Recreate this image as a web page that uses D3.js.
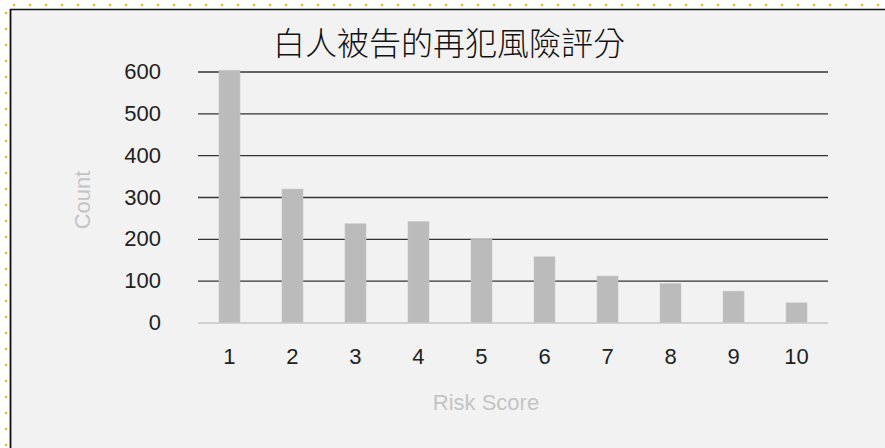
<!DOCTYPE html>
<html>
<head>
<meta charset="utf-8">
<script src="https://cdn.jsdelivr.net/npm/d3@7"></script>
<style>
  html, body { margin: 0; padding: 0; background: #fff; }
  svg { display: block; }
</style>
</head>
<body>
<svg id="chart" width="885" height="448"></svg>
<script>
const scores = ['1', '2', '3', '4', '5', '6', '7', '8', '9', '10'];
const counts = [603, 319, 236, 241, 199, 157, 111, 93, 75, 47];
const yTicks = [0, 100, 200, 300, 400, 500, 600];

const width = 885, height = 448;
const plot = { left: 198, right: 828, top: 71.5, bottom: 322.5 };

const svg = d3.select('#chart');

// frame: grey panel with dark top/left edge, dotted guides outside
svg.append('rect')
    .attr('x', 11).attr('y', 10)
    .attr('width', width - 11).attr('height', height - 10)
    .attr('fill', '#f2f2f2');
svg.append('line')
    .attr('x1', 10).attr('x2', width).attr('y1', 9.5).attr('y2', 9.5)
    .attr('stroke', '#111').attr('stroke-width', 1.5);
svg.append('line')
    .attr('x1', 10.5).attr('x2', 10.5).attr('y1', 9).attr('y2', height)
    .attr('stroke', '#111').attr('stroke-width', 1.8);
svg.append('line')
    .attr('x1', 13).attr('x2', width).attr('y1', 5).attr('y2', 5)
    .attr('stroke', '#f2b400').attr('stroke-width', 2)
    .attr('stroke-dasharray', '2 14');
svg.append('line')
    .attr('x1', 6).attr('x2', 6).attr('y1', 12).attr('y2', height)
    .attr('stroke', '#f2b400').attr('stroke-width', 2)
    .attr('stroke-dasharray', '2 14');

const x = d3.scaleBand()
    .domain(scores)
    .range([plot.left, plot.right])
    .paddingInner(0.667)
    .paddingOuter(0.333);

const y = d3.scaleLinear()
    .domain([0, 600])
    .range([plot.bottom, plot.top]);

// gridlines
const yAxis = svg.append('g')
    .attr('transform', 'translate(' + plot.left + ',0)')
    .call(d3.axisLeft(y).tickValues(yTicks)
        .tickSize(-(plot.right - plot.left)).tickPadding(37));
yAxis.select('.domain').remove();
yAxis.selectAll('.tick line')
    .attr('stroke', (d) => d === 0 ? '#d0d0d0' : '#333')
    .attr('stroke-width', (d) => d === 0 ? 2 : 1.4);
yAxis.selectAll('.tick text')
    .attr('fill', '#222')
    .style('font-family', 'Liberation Sans, Arial, sans-serif')
    .style('font-size', '22px');

// bars
svg.append('g')
    .selectAll('rect')
    .data(counts)
    .enter()
    .append('rect')
    .attr('x', (d, i) => x(scores[i]))
    .attr('y', (d) => y(d))
    .attr('width', x.bandwidth())
    .attr('height', (d) => y(0) - y(d))
    .attr('fill', '#bbbbbb')
    .attr('stroke', '#c6c6c6')
    .attr('stroke-width', 0.6);

// x labels
const xAxis = svg.append('g')
    .attr('transform', 'translate(0,' + plot.bottom + ')')
    .call(d3.axisBottom(x).tickSize(0).tickPadding(26));
xAxis.select('.domain').remove();
xAxis.selectAll('.tick text')
    .attr('fill', '#222')
    .style('font-family', 'Liberation Sans, Arial, sans-serif')
    .style('font-size', '22px');

// titles
svg.append('text')
    .attr('x', 449).attr('y', 55)
    .attr('text-anchor', 'middle')
    .attr('fill', '#111')
    .style('font-family', 'Noto Sans CJK TC, sans-serif')
    .style('font-size', '32px')
    .style('font-weight', 300)
    .text('白人被告的再犯風險評分');

svg.append('text')
    .attr('x', 486).attr('y', 410)
    .attr('text-anchor', 'middle')
    .attr('fill', '#c4c4c4')
    .style('font-family', 'Liberation Sans, Arial, sans-serif')
    .style('font-size', '22px')
    .text('Risk Score');

svg.append('text')
    .attr('transform', 'translate(90,200) rotate(-90)')
    .attr('text-anchor', 'middle')
    .attr('fill', '#c4c4c4')
    .style('font-family', 'Liberation Sans, Arial, sans-serif')
    .style('font-size', '22px')
    .text('Count');
</script>
</body>
</html>
